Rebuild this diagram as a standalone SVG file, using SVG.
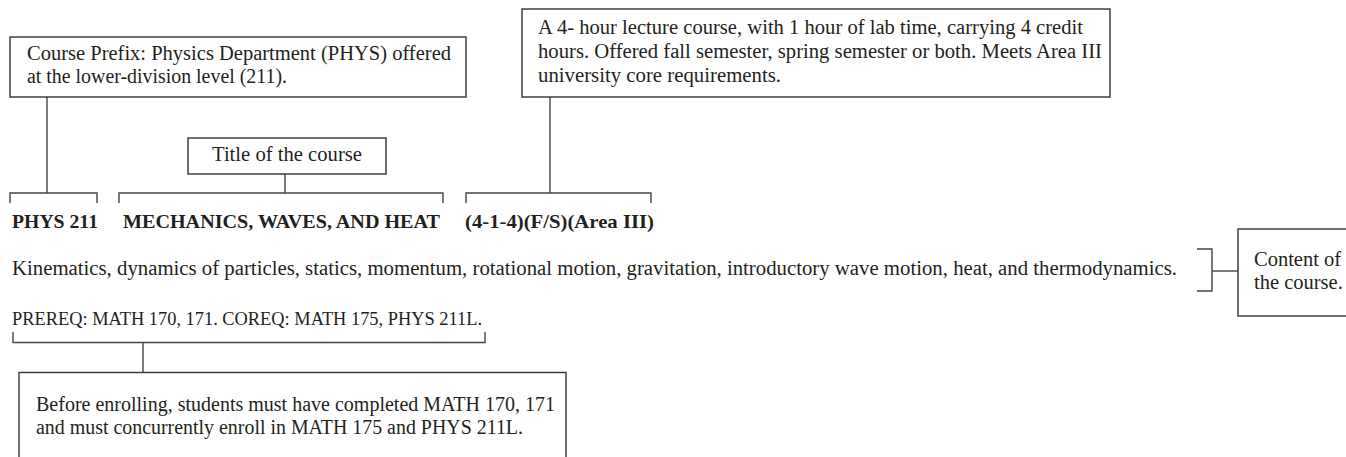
<svg xmlns="http://www.w3.org/2000/svg" width="1346" height="457" viewBox="0 0 1346 457">
<style>
  .box { fill: #ffffff; stroke: #333333; stroke-width: 1.4; }
  .con { fill: none; stroke: #444444; stroke-width: 1.4; }
  .t { font-family: "Liberation Serif", "Times New Roman", serif; font-size: 20.5px; fill: #231f20; }
  .b { font-family: "Liberation Serif", "Times New Roman", serif; font-size: 19.5px; font-weight: bold; fill: #231f20; }
</style>
<rect width="1346" height="457" fill="#ffffff"/>

<g id="connectors">
  <path class="con" d="M10,203 V193 H97 V203"/>
  <path class="con" d="M47,97 V193"/>
  <path class="con" d="M119,203 V193 H443 V203"/>
  <path class="con" d="M285,174 V193"/>
  <path class="con" d="M466,203 V193 H651 V203"/>
  <path class="con" d="M550,97 V193"/>
  <path class="con" d="M1197,249 H1212 V291 H1197"/>
  <path class="con" d="M1212,271 H1238"/>
  <path class="con" d="M13,332 V342.5 H485 V332"/>
  <path class="con" d="M143,342.5 V372.5"/>
</g>

<g id="node-prefix">
  <rect class="box" x="10" y="37" width="456" height="60"/>
  <text class="t" x="27" y="60" textLength="424" lengthAdjust="spacingAndGlyphs">Course Prefix: Physics Department (PHYS) offered</text>
  <text class="t" x="27" y="83" textLength="260" lengthAdjust="spacingAndGlyphs">at the lower-division level (211).</text>
</g>

<g id="node-title">
  <rect class="box" x="188" y="138" width="198" height="36"/>
  <text class="t" x="212" y="161" textLength="150" lengthAdjust="spacingAndGlyphs">Title of the course</text>
</g>

<g id="node-credits">
  <rect class="box" x="522" y="9" width="588" height="88"/>
  <text class="t" x="538" y="34" textLength="545" lengthAdjust="spacingAndGlyphs">A 4- hour lecture course, with 1 hour of lab time, carrying 4 credit</text>
  <text class="t" x="538" y="58" textLength="564" lengthAdjust="spacingAndGlyphs">hours. Offered fall semester, spring semester or both. Meets Area III</text>
  <text class="t" x="538" y="82" textLength="243" lengthAdjust="spacingAndGlyphs">university core requirements.</text>
</g>

<g id="node-heading">
  <text class="b" x="12" y="228" textLength="86" lengthAdjust="spacingAndGlyphs">PHYS 211</text>
  <text class="b" x="123" y="228" textLength="317" lengthAdjust="spacingAndGlyphs">MECHANICS, WAVES, AND HEAT</text>
  <text class="b" x="465" y="228" textLength="189" lengthAdjust="spacingAndGlyphs">(4-1-4)(F/S)(Area III)</text>
</g>

<g id="node-description">
  <text class="t" x="12" y="275" textLength="1165" lengthAdjust="spacingAndGlyphs">Kinematics, dynamics of particles, statics, momentum, rotational motion, gravitation, introductory wave motion, heat, and thermodynamics.</text>
</g>

<g id="node-content">
  <rect class="box" x="1238" y="229" width="120" height="87"/>
  <text class="t" x="1254" y="266">Content of</text>
  <text class="t" x="1254" y="289">the course.</text>
</g>

<g id="node-prereq-line">
  <text class="t" x="12" y="325" textLength="470" lengthAdjust="spacingAndGlyphs" style="font-size:19px">PREREQ: MATH 170, 171. COREQ: MATH 175, PHYS 211L.</text>
</g>

<g id="node-prereq">
  <rect class="box" x="19" y="372.5" width="547" height="100"/>
  <text class="t" x="36" y="411" textLength="519" lengthAdjust="spacingAndGlyphs">Before enrolling, students must have completed MATH 170, 171</text>
  <text class="t" x="36" y="434" textLength="487" lengthAdjust="spacingAndGlyphs">and must concurrently enroll in MATH 175 and PHYS 211L.</text>
</g>
</svg>
